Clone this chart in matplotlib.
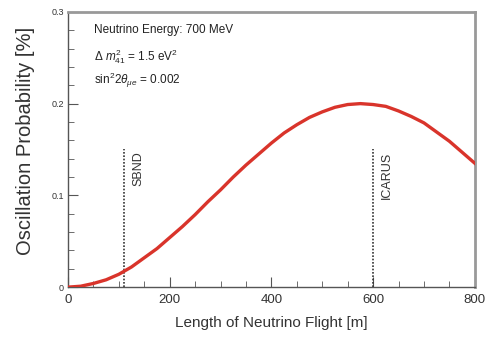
import numpy as np
import matplotlib.pyplot as plt
from matplotlib.ticker import MultipleLocator

plt.rcParams['font.family'] = ['Liberation Sans', 'DejaVu Sans']
plt.rcParams['mathtext.fontset'] = 'custom'
plt.rcParams['mathtext.rm'] = 'Liberation Sans'
plt.rcParams['mathtext.it'] = 'Liberation Sans:italic'

# Oscillation probability [%], every 25 m
flight_m = [0, 25, 50, 75, 100, 125, 150, 175, 200, 225, 250, 275, 300,
            325, 350, 375, 400, 425, 450, 475, 500, 525, 550, 575, 600,
            625, 650, 675, 700, 725, 750, 775, 800]
prob_pct = [0.000, 0.001, 0.004, 0.008, 0.014, 0.022, 0.032, 0.042, 0.054,
            0.066, 0.079, 0.093, 0.106, 0.120, 0.133, 0.145, 0.157, 0.168,
            0.177, 0.185, 0.191, 0.196, 0.199, 0.200, 0.199, 0.197, 0.192,
            0.186, 0.179, 0.169, 0.159, 0.147, 0.135]

detectors = ["SBND", "ICARUS"]
detector_pos = [110, 600]
detector_top = 0.15

fig = plt.figure(figsize=(4.89, 3.39), dpi=100)
ax = fig.add_axes([0.139, 0.153, 0.832, 0.812])

ax.plot(flight_m, prob_pct, color="#d9342b", lw=2.4, zorder=3,
        solid_joinstyle="round")

for name, x in zip(detectors, detector_pos):
    ax.plot([x, x], [0, detector_top], color="#333333", lw=1.2,
            linestyle=(0, (1, 1)), zorder=2)
    ax.text(x + 16, detector_top - 0.002, name, rotation=90, ha="left",
            va="top", fontsize=9, color="#333333")

ax.text(0.065, 0.955, "Neutrino Energy: 700 MeV", transform=ax.transAxes,
        fontsize=8.5, va="top", color="#222222")
ax.text(0.065, 0.870, r"$\Delta\ m^2_{41}$ = 1.5 eV$^2$", transform=ax.transAxes,
        fontsize=8.5, va="top", color="#222222")
ax.text(0.065, 0.785, r"sin$^2 2\theta_{\mu e}$ = 0.002", transform=ax.transAxes,
        fontsize=8.5, va="top", color="#222222")

ax.set_xlim(0, 800)
ax.set_ylim(0, 0.3)
ax.xaxis.set_major_locator(MultipleLocator(200))
ax.xaxis.set_minor_locator(MultipleLocator(50))
ax.yaxis.set_major_locator(MultipleLocator(0.1))
ax.yaxis.set_minor_locator(MultipleLocator(0.02))
ax.set_yticks([0, 0.1, 0.2, 0.3])
ax.set_yticklabels(["0", "0.1", "0.2", "0.3"])
ax.tick_params(axis="both", which="both", direction="in", color="#555555")
ax.tick_params(axis="x", which="major", length=7, labelsize=9.5, pad=5,
               labelcolor="#333333")
ax.tick_params(axis="y", which="major", length=7, labelsize=6.5, pad=3,
               labelcolor="#333333")
ax.tick_params(which="minor", length=4)

for side in ["top", "right"]:
    ax.spines[side].set_color("#999999")
    ax.spines[side].set_linewidth(2)
for side in ["left", "bottom"]:
    ax.spines[side].set_color("#555555")
    ax.spines[side].set_linewidth(1)

ax.set_xlabel("Length of Neutrino Flight [m]", fontsize=11, color="#333333",
              labelpad=7)
ax.set_ylabel("Oscillation Probability [%]", fontsize=14.5, color="#333333")
ax.yaxis.set_label_coords(-0.08, 0.53)

fig.savefig("out.png", dpi=100)
